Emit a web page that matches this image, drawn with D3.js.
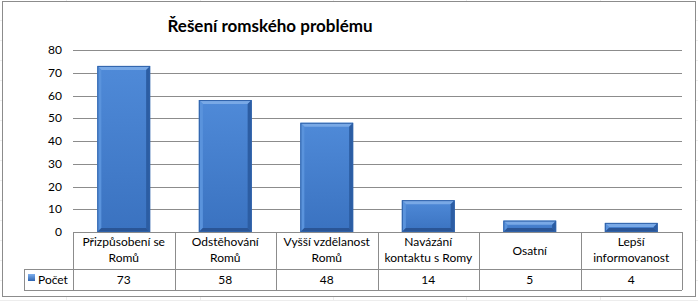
<!DOCTYPE html>
<html>
<head>
<meta charset="utf-8">
<script src="https://cdn.jsdelivr.net/npm/d3@7"></script>
<style>
  body { margin: 0; background: #fff; }
  svg text { font-family: Lato, "Open Sans", sans-serif; }
</style>
</head>
<body>
<svg id="chart" width="698" height="301"></svg>
<script>
/* Data */
var categoryLines = [
    ['Přizpůsobení se', 'Romů'],
    ['Odstěhování', 'Romů'],
    ['Vyšší vzdělanost', 'Romů'],
    ['Navázání', 'kontaktu s Romy'],
    ['Osatní'],
    ['Lepší', 'informovanost']
];
var categories = categoryLines.map(function (l) { return l.join(' '); });
var values = [73, 58, 48, 14, 5, 4];
var seriesName = 'Počet';
var yTicks = [0, 10, 20, 30, 40, 50, 60, 70, 80];
var chartTitle = 'Řešení romského problému';

/* Layout */
var svg = d3.select('#chart');
var plot = { left: 73, right: 682, top: 50, bottom: 232 };
var row1 = 269, row2 = 290, legendLeft = 24;
var gridColor = '#8c8c8c';

var x = d3.scaleBand()
    .domain(categories)
    .range([plot.left, plot.right])
    .paddingInner(0)
    .paddingOuter(0);

var y = d3.scaleLinear()
    .domain([0, 80])
    .range([plot.bottom, plot.top]);

// faint spreadsheet grid behind the chart
var sheet = svg.append('g').attr('stroke', '#ededed').attr('stroke-width', 1);
[20, 40, 60, 80, 100, 120, 140, 160, 180, 200, 220, 240, 260, 280, 300].forEach(function (v) {
    sheet.append('line').attr('x1', 0).attr('x2', 698).attr('y1', v + 0.5).attr('y2', v + 0.5);
});
[66, 200, 333, 466, 600].forEach(function (v) {
    sheet.append('line').attr('x1', v + 0.5).attr('x2', v + 0.5).attr('y1', 0).attr('y2', 301);
});

// chart area
svg.append('rect')
    .attr('x', 2.5).attr('y', 1.5)
    .attr('width', 693).attr('height', 295)
    .attr('fill', '#fff')
    .attr('stroke', '#8c8c8c');

// title
svg.append('text')
    .attr('x', 270).attr('y', 32)
    .attr('text-anchor', 'middle')
    .attr('font-size', 17)
    .attr('font-weight', 'bold')
    .attr('fill', '#000')
    .text(chartTitle);

// gridlines
svg.append('g')
    .selectAll('line')
    .data(yTicks.filter(function (d) { return d > 0; }))
    .enter()
    .append('line')
    .attr('x1', plot.left).attr('x2', plot.right)
    .attr('y1', function (d) { return Math.round(y(d)) + 0.5; })
    .attr('y2', function (d) { return Math.round(y(d)) + 0.5; })
    .attr('stroke', gridColor);

// y axis labels
svg.append('g')
    .selectAll('text')
    .data(yTicks)
    .enter()
    .append('text')
    .attr('x', 62)
    .attr('y', function (d) { return y(d) + 4; })
    .attr('text-anchor', 'end')
    .attr('font-size', 12)
    .attr('fill', '#000')
    .text(function (d) { return d; });

// bars with bevel
var defs = svg.append('defs');
var grad = defs.append('linearGradient').attr('id', 'barFill')
    .attr('x1', 0).attr('y1', 0).attr('x2', 0).attr('y2', 1);
grad.append('stop').attr('offset', 0).attr('stop-color', '#4f8ad8');
grad.append('stop').attr('offset', 1).attr('stop-color', '#3a72c0');

var barW = x.bandwidth() * 0.52;
var bev = 4;
var bars = svg.append('g')
    .selectAll('g')
    .data(values)
    .enter()
    .append('g')
    .attr('class', 'bar');

bars.each(function (d, i) {
    var g = d3.select(this);
    var x0 = x(categories[i]) + (x.bandwidth() - barW) / 2;
    var x1 = x0 + barW;
    var y0 = y(d);
    var y1 = y(0);
    var b = Math.min(bev, (y1 - y0) / 2);
    g.append('rect')
        .attr('x', x0).attr('y', y0)
        .attr('width', barW).attr('height', y1 - y0)
        .attr('fill', 'url(#barFill)');
    // top bevel
    g.append('polygon')
        .attr('points', [[x0, y0], [x1, y0], [x1 - b, y0 + b], [x0 + b, y0 + b]].join(' '))
        .attr('fill', '#79a9e6');
    // left bevel
    g.append('polygon')
        .attr('points', [[x0, y0], [x0 + b, y0 + b], [x0 + b, y1 - b], [x0, y1]].join(' '))
        .attr('fill', '#5a93dc');
    // right bevel
    g.append('polygon')
        .attr('points', [[x1, y0], [x1 - b, y0 + b], [x1 - b, y1 - b], [x1, y1]].join(' '))
        .attr('fill', '#2c5da3');
    // bottom bevel
    g.append('polygon')
        .attr('points', [[x0, y1], [x0 + b, y1 - b], [x1 - b, y1 - b], [x1, y1]].join(' '))
        .attr('fill', '#2a5596');
    g.append('rect')
        .attr('x', x0 + 0.5).attr('y', y0 + 0.5)
        .attr('width', barW - 1).attr('height', y1 - y0 - 1)
        .attr('fill', 'none')
        .attr('stroke', '#2f62aa')
        .attr('stroke-width', 1);
});

// data table
var table = svg.append('g')
    .attr('stroke', gridColor)
    .attr('stroke-width', 1)
    .attr('fill', 'none');

table.append('line')
    .attr('x1', plot.left).attr('x2', plot.right)
    .attr('y1', plot.bottom + 0.5).attr('y2', plot.bottom + 0.5);
table.append('line')
    .attr('x1', legendLeft).attr('x2', plot.right)
    .attr('y1', row1 + 0.5).attr('y2', row1 + 0.5);
table.append('line')
    .attr('x1', legendLeft).attr('x2', plot.right)
    .attr('y1', row2 + 0.5).attr('y2', row2 + 0.5);
table.append('line')
    .attr('x1', legendLeft + 0.5).attr('x2', legendLeft + 0.5)
    .attr('y1', row1).attr('y2', row2);

var edges = categories.map(function (c) { return x(c); }).concat([plot.right]);
edges.forEach(function (e) {
    table.append('line')
        .attr('x1', Math.round(e) + 0.5).attr('x2', Math.round(e) + 0.5)
        .attr('y1', plot.bottom).attr('y2', row2);
});

// category labels
var catLabels = svg.append('g')
    .selectAll('text')
    .data(categoryLines)
    .enter()
    .append('text')
    .attr('text-anchor', 'middle')
    .attr('font-size', 12)
    .attr('fill', '#000')
    .attr('x', function (d, i) { return x(categories[i]) + x.bandwidth() / 2; })
    .attr('y', function (d) { return d.length === 1 ? 255 : 246; });

catLabels.each(function (d) {
    var t = d3.select(this);
    d.forEach(function (line, j) {
        t.append('tspan')
            .attr('x', t.attr('x'))
            .attr('dy', j === 0 ? 0 : 16)
            .text(line);
    });
});

// value row
svg.append('g')
    .selectAll('text')
    .data(values)
    .enter()
    .append('text')
    .attr('text-anchor', 'middle')
    .attr('font-size', 12)
    .attr('fill', '#000')
    .attr('x', function (d, i) { return x(categories[i]) + x.bandwidth() / 2; })
    .attr('y', 284)
    .text(function (d) { return d; });

// legend key
var lg = defs.append('linearGradient').attr('id', 'keyFill')
    .attr('x1', 0).attr('y1', 0).attr('x2', 0).attr('y2', 1);
lg.append('stop').attr('offset', 0).attr('stop-color', '#7fb0ee');
lg.append('stop').attr('offset', 1).attr('stop-color', '#2f64b0');
svg.append('rect')
    .attr('x', 28).attr('y', 274)
    .attr('width', 7).attr('height', 7)
    .attr('fill', 'url(#keyFill)');
svg.append('text')
    .attr('x', 38).attr('y', 284)
    .attr('font-size', 12)
    .attr('fill', '#000')
    .text(seriesName);
</script>
</body>
</html>
